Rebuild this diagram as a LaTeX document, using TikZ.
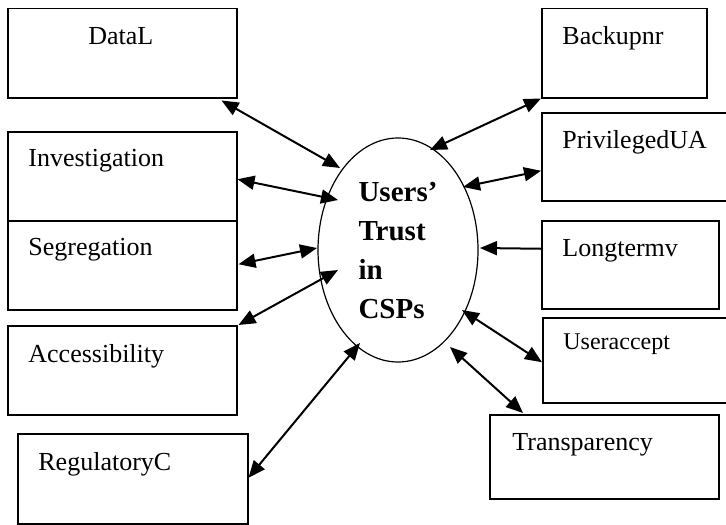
\documentclass[tikz,border=0pt]{standalone}
\usepackage{fontspec}
\setmainfont{Liberation Serif}
\usetikzlibrary{arrows.meta,calc,shapes.geometric}
\begin{document}
\begin{tikzpicture}[x=0.5pt,y=-0.5pt,
  box/.style={draw,line width=0.75pt,inner sep=0pt,anchor=north west},
  lbl/.style={inner sep=0pt,anchor=base west,font=\fontsize{13pt}{15pt}\selectfont},
  dbl/.style={line width=1pt,{Triangle[length=8.5pt,width=7pt]}-{Triangle[length=8.5pt,width=7pt]}},
  sgl/.style={line width=1pt,-{Triangle[length=8.5pt,width=7pt]}}]
\useasboundingbox (0,0) rectangle (726,524);
\clip (0,0) rectangle (726,524);
% ellipse
\node[draw,ellipse,line width=0.6pt,minimum width=80pt,minimum height=112pt,inner sep=0pt,align=left,
  font=\fontsize{14.5pt}{19.5pt}\selectfont\bfseries] (ell) at (398,250) {Users’\\Trust\\in\\CSPs};
% left boxes
\node[box,minimum width=114.5pt,minimum height=44.5pt] (dataL) at (7,8) {};
\node[box,minimum width=114.5pt,minimum height=44.5pt] (inv) at (7,131) {};
\node[box,minimum width=114.5pt,minimum height=44.5pt] (seg) at (7,220) {};
\node[box,minimum width=114.5pt,minimum height=44.5pt] (acc) at (7,325) {};
\node[box,minimum width=115pt,minimum height=45pt] (reg) at (17,433) {};
% right boxes
\node[box,minimum width=82.5pt,minimum height=44.5pt] (back) at (541,8) {};
\node[box,minimum width=95pt,minimum height=44pt] (priv) at (541,112) {};
\node[box,minimum width=88.5pt,minimum height=44pt] (long) at (541,220) {};
\node[box,minimum width=95pt,minimum height=42.5pt] (user) at (542,317) {};
\node[box,minimum width=114.5pt,minimum height=42pt] (trans) at (489,414) {};
% labels
\node[lbl] (tdataL) at (88,45) {DataL};
\node[lbl] (tinv) at (28,166) {Investigation};
\node[lbl] (tseg) at (28,255) {Segregation};
\node[lbl] (tacc) at (28,362) {Accessibility};
\node[lbl] (treg) at (38,470) {RegulatoryC};
\node[lbl] (tback) at (562,45) {Backupnr};
\node[lbl] (tpriv) at (562,148) {PrivilegedUA};
\node[lbl] (tlong) at (562,256) {Longtermv};
\node[lbl,font=\fontsize{12pt}{14pt}\selectfont] (tuser) at (563,349) {Useraccept};
\node[lbl] (ttrans) at (512,450) {Transparency};
% connectors
\draw[dbl] ($(dataL.south east)+(-16,2)$) -- ($(ell.center)+(-58,-82)$);
\draw[dbl] ($(inv.east)+(0,3)$) -- ($(ell.center)+(-60,-50)$);
\draw[dbl] ($(seg.east)+(1,-1)$) -- ($(ell.center)+(-81,-2)$);
\draw[dbl] ($(acc.north east)+(1,0)$) -- ($(ell.center)+(-60,20)$);
\draw[dbl] ($(reg.east)+(0,-1)$) -- ($(ell.center)+(-38,93)$);
\draw[dbl] (back.south west) -- ($(ell.center)+(32,-100)$);
\draw[dbl] ($(priv.west)+(0,14)$) -- ($(ell.center)+(65,-63)$);
\draw[sgl] ($(long.west)+(0,-16)$) -- ($(ell.center)+(82,-2)$);
\draw[dbl] ($(user.west)+(0,2)$) -- ($(ell.center)+(64,60)$);
\draw[dbl] ($(trans.north west)+(34,-1)$) -- ($(ell.center)+(52,97)$);
\end{tikzpicture}
\end{document}
